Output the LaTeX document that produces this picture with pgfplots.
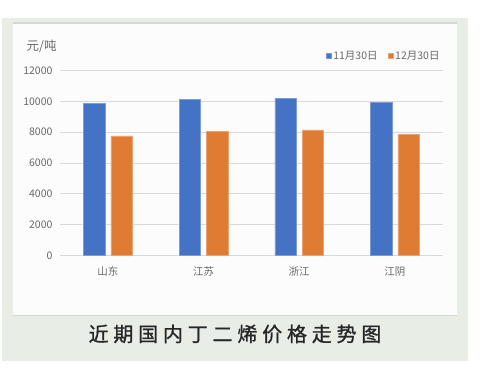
\documentclass[border=0pt]{standalone}
\usepackage{fontspec}
\setmainfont{Noto Sans CJK SC}
\newfontfamily\capfont{Noto Sans CJK SC}[LetterSpace=24,FakeBold=1]
\usepackage{pgfplots}
\pgfplotsset{compat=1.18}
\definecolor{bggreen}{RGB}{232,237,230}
\definecolor{panelline}{RGB}{214,214,214}
\definecolor{gridc}{RGB}{217,217,217}
\definecolor{txtc}{RGB}{105,105,105}
\definecolor{blueb}{RGB}{68,114,196}
\definecolor{orangeb}{RGB}{224,123,52}
\begin{document}
\begin{tikzpicture}[x=1bp,y=1bp]
\path[use as bounding box] (0,0) rectangle (481,367);
\fill[bggreen] (2,367-360.5) rectangle (468,367-18);
\fill[white!99!black] (13.3,367-315.5) rectangle (456.5,367-22.5);
\draw[panelline,line width=1.2bp] (13.3,367-23) -- (456.5,367-23);
\draw[panelline,line width=0.8bp] (13.3,367-315.5) -- (456.5,367-315.5);
\node[anchor=west,text=txtc,font=\fontsize{12.5bp}{14bp}\selectfont,inner sep=0] at (26.5,367-46) {元/吨};
\node[text=black!85,font=\capfont\fontsize{20bp}{22bp}\selectfont,inner sep=0] at (235,367-334) {近期国内丁二烯价格走势图};
\begin{axis}[
  at={(60bp,111.7bp)}, anchor=south west,
  scale only axis, width=382.7bp, height=184.6bp,
  ybar=6bp, bar width=21.3bp,
  xmin=-0.5, xmax=3.5, ymin=0, ymax=12000,
  xtick={0,1,2,3}, xticklabels={山东,江苏,浙江,江阴},
  ytick={0,2000,4000,6000,8000,10000,12000},
  scaled y ticks=false,
  axis line style={draw=none},
  tick style={draw=none},
  ymajorgrids, grid style={gridc,line width=1bp},
  /pgf/number format/assume math mode=true,
  /pgf/number format/1000 sep={},
  ticklabel style={text=txtc,font=\fontsize{10.5bp}{12bp}\selectfont},
  yticklabel style={xshift=-4bp},
  xticklabel style={yshift=-4bp},
  legend columns=2,
  legend style={at={(1,1)},anchor=south east,yshift=6bp,xshift=2bp,draw=none,fill=none,
    font=\fontsize{10.5bp}{12bp}\selectfont,text=txtc,
    /tikz/every even column/.append style={column sep=8bp}},
  legend image code/.code={\fill[#1] (0bp,-2.6bp) rectangle (5.2bp,2.6bp);},
]
\addplot[fill=blueb,draw=blueb!70!white,line width=0.4bp] coordinates {(0,9880) (1,10120) (2,10210) (3,9930)};
\addplot[fill=orangeb,draw=orangeb!70!white,line width=0.4bp] coordinates {(0,7770) (1,8070) (2,8150) (3,7850)};
\legend{11月30日,12月30日}
\end{axis}
\end{tikzpicture}
\end{document}
